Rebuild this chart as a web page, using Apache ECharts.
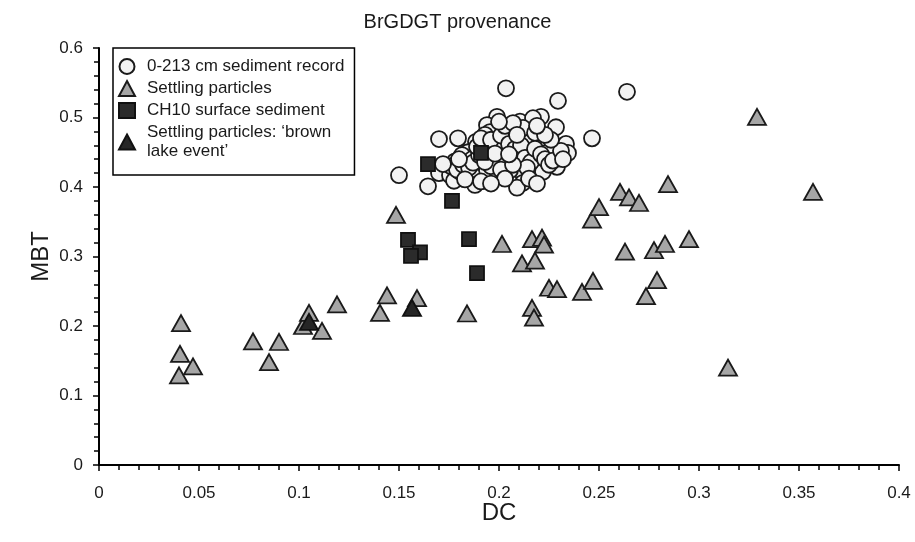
<!DOCTYPE html>
<html>
<head>
<meta charset="utf-8">
<script src="https://cdn.jsdelivr.net/npm/echarts@6/dist/echarts.min.js"></script>
<style>html,body{margin:0;padding:0;background:#fff}#chart{width:915px;height:542px}</style>
</head>
<body>
<div id="chart"></div>
<script>
const seriesNames = ['0-213 cm sediment record', 'Settling particles', 'CH10 surface sediment', "Settling particles: \u2018brown\nlake event\u2019"];
const xTicks = ['0','0.05','0.1','0.15','0.2','0.25','0.3','0.35','0.4'];
const yTicks = ['0','0.1','0.2','0.3','0.4','0.5','0.6'];

const sedimentRecord = [
  [0.150,0.417],[0.1645,0.401],[0.170,0.469],[0.1795,0.470],[0.2035,0.542],[0.2295,0.524],[0.264,0.537],[0.2465,0.470],[0.2285,0.486],[0.221,0.501],
  [0.199,0.501],[0.194,0.489],[0.1955,0.479],[0.193,0.475],[0.1885,0.465],[0.199,0.460],[0.1845,0.450],[0.1815,0.446],[0.178,0.437],[0.174,0.427],
  [0.170,0.420],[0.1755,0.417],[0.1775,0.409],[0.184,0.419],[0.1885,0.414],[0.188,0.403],[0.194,0.424],[0.197,0.442],[0.1865,0.440],[0.2005,0.436],
  [0.1805,0.422],[0.1995,0.417],[0.2105,0.494],[0.217,0.499],[0.2045,0.479],[0.2135,0.472],[0.198,0.465],[0.2205,0.463],[0.227,0.458],[0.2335,0.462],
  [0.2345,0.449],[0.2095,0.449],[0.2155,0.449],[0.204,0.439],[0.2105,0.432],[0.229,0.429],[0.219,0.439],[0.222,0.422],[0.212,0.419],[0.2055,0.424],
  [0.212,0.406],[0.209,0.399],[0.229,0.446],[0.2245,0.450],[0.1955,0.442],[0.202,0.455],[0.2065,0.468],[0.2155,0.465],[0.212,0.485],[0.218,0.478],
  [0.176,0.430],[0.179,0.425],[0.182,0.432],[0.185,0.428],[0.187,0.435],[0.190,0.446],[0.192,0.452],[0.189,0.458],[0.191,0.470],[0.196,0.468],
  [0.201,0.474],[0.203,0.488],[0.207,0.492],[0.205,0.462],[0.208,0.455],[0.211,0.460],[0.213,0.442],[0.216,0.436],[0.214,0.428],[0.218,0.455],
  [0.221,0.447],[0.223,0.440],[0.225,0.432],[0.227,0.438],[0.231,0.452],[0.232,0.440],[0.226,0.468],[0.223,0.475],[0.219,0.488],[0.196,0.430],
  [0.193,0.436],[0.198,0.448],[0.201,0.425],[0.203,0.412],[0.207,0.432],[0.183,0.411],[0.191,0.408],[0.196,0.405],[0.172,0.433],[0.180,0.440],
  [0.215,0.412],[0.219,0.405],[0.205,0.447],[0.209,0.475],[0.200,0.494]
];
const settlingParticles = [
  [0.041,0.204],[0.0405,0.160],[0.040,0.129],[0.047,0.142],[0.077,0.178],[0.085,0.148],[0.090,0.177],[0.102,0.200],[0.105,0.219],[0.1115,0.193],
  [0.119,0.231],[0.1405,0.219],[0.144,0.244],[0.1485,0.360],[0.159,0.240],[0.184,0.218],[0.2015,0.318],[0.2115,0.290],[0.2165,0.325],[0.218,0.294],
  [0.2215,0.327],[0.2225,0.317],[0.2165,0.226],[0.2175,0.212],[0.225,0.255],[0.229,0.253],[0.2415,0.249],[0.247,0.265],[0.2465,0.353],[0.250,0.371],
  [0.2605,0.393],[0.265,0.385],[0.270,0.377],[0.2845,0.404],[0.263,0.307],[0.2775,0.309],[0.283,0.318],[0.295,0.325],[0.2735,0.243],[0.279,0.266],
  [0.3145,0.140],[0.329,0.501],[0.357,0.393]
];
const surfaceSediment = [
  [0.1645,0.433],[0.1765,0.380],[0.191,0.449],[0.1545,0.324],[0.1605,0.306],[0.156,0.301],[0.185,0.325],[0.189,0.276]
];
const brownLakeEvent = [
  [0.105,0.206],[0.1565,0.226]
];

const labelFont = "'Liberation Sans',Arial,sans-serif";
const mainFont = "'Liberation Sans',Arial,sans-serif";
const edge = '#1a1a1a';

const chart = echarts.init(document.getElementById('chart'), null, {renderer: 'canvas'});
function axisCommon(ticks, margin) {
  return {
    type: 'value', min: 0,
    splitLine: {show: false},
    axisLine: {show: true, onZero: false, lineStyle: {color: '#000', width: 2}},
    axisTick: {show: true, length: 6, lineStyle: {color: '#000', width: 1.5}},
    minorTick: {show: true, splitNumber: 5, length: 5, lineStyle: {color: '#000', width: 1.5}},
    axisLabel: {fontFamily: labelFont, fontSize: 17, color: '#1a1a1a', margin: margin,
      formatter: function (v) { const s = String(+v.toFixed(2)); return ticks.indexOf(s) >= 0 ? s : ''; }},
    nameLocation: 'middle',
    nameMoveOverlap: false,
    nameTextStyle: {fontFamily: mainFont, fontSize: 24, color: '#1a1a1a'}
  };
}
const option = {
  backgroundColor: '#fff',
  animation: false,
  title: {text: 'BrGDGT provenance', left: 'center', top: 7,
    textStyle: {fontFamily: mainFont, fontSize: 20, fontWeight: 'normal', color: '#1a1a1a'}},
  grid: {left: 99, right: 16, top: 48, bottom: 77, containLabel: false},
  xAxis: Object.assign(axisCommon(xTicks, 20), {max: 0.4, interval: 0.05, name: 'DC', nameGap: 36}),
  yAxis: Object.assign(axisCommon(yTicks, 16), {max: 0.6, interval: 0.1, name: 'MBT', nameGap: 46}),
  legend: {
    orient: 'vertical', left: 113, top: 48,
    padding: [9, 10, 14, 5],
    itemGap: 3, itemWidth: 16, itemHeight: 15,
    borderColor: '#000', borderWidth: 1.5, backgroundColor: '#fff',
    textStyle: {fontFamily: mainFont, fontSize: 17, lineHeight: 19, color: '#1a1a1a', padding: [0, 0, 0, 7]},
    data: seriesNames
  },
  series: [
    {name: seriesNames[0], type: 'scatter', data: sedimentRecord, symbol: 'circle', symbolSize: 16,
      itemStyle: {color: '#f2f2f2', borderColor: edge, borderWidth: 1.8, opacity: 1}},
    {name: seriesNames[1], type: 'scatter', data: settlingParticles, symbol: 'triangle', symbolSize: [18, 16],
      itemStyle: {color: '#a6a6a6', borderColor: edge, borderWidth: 1.8, opacity: 1}},
    {name: seriesNames[2], type: 'scatter', data: surfaceSediment, symbol: 'rect', symbolSize: 14,
      itemStyle: {color: '#2b2b2b', borderColor: '#111', borderWidth: 1.8, opacity: 1}},
    {name: seriesNames[3], type: 'scatter', data: brownLakeEvent, symbol: 'triangle', symbolSize: [18, 16],
      itemStyle: {color: '#262626', borderColor: '#111', borderWidth: 1.8, opacity: 1}}
  ]
};
chart.setOption(option);
</script>
</body>
</html>
